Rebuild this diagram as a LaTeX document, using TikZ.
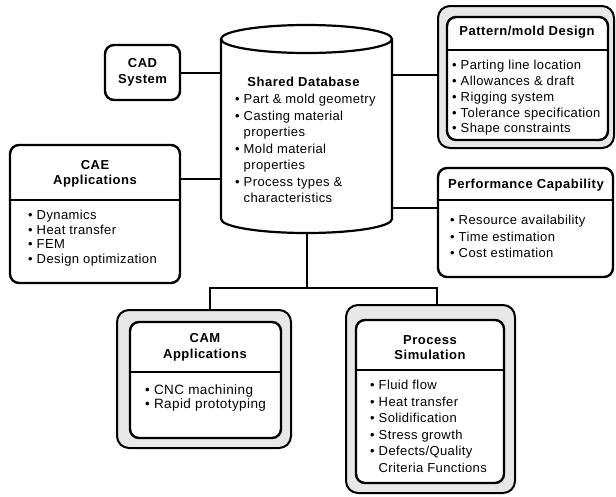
\documentclass[tikz,border=0pt]{standalone}
\usepackage{fontspec}
\setmainfont{Liberation Sans}[LetterSpace=3, BoldFeatures={LetterSpace=4}]
\begin{document}
\begin{tikzpicture}[x=1pt, y=-1pt,
  box/.style={draw, line width=2.4pt, rounded corners=9pt, fill=white},
  frame/.style={draw, line width=2pt, rounded corners=12pt, fill=black!9},
  rule/.style={line width=2pt},
  link/.style={line width=2pt},
  head/.style={font=\fontsize{13}{15.5}\selectfont\bfseries, align=center, inner sep=0pt},
  items/.style={font=\fontsize{13}{16.5}\selectfont, align=left, inner sep=0pt, anchor=north west}]
\useasboundingbox (0,0) rectangle (616,496);

% shared database cylinder
\draw[line width=2.2pt, fill=white] (221,39) -- (221,219)
  arc[start angle=180, end angle=360, x radius=85.5pt, y radius=14pt] -- (392,39);
\draw[line width=2.2pt] (306.5,39) ellipse [x radius=85.5pt, y radius=14pt];
\node[minimum width=171pt, minimum height=208pt, inner sep=0pt] (db) at (306.5,129) {};
\node[head] (dbT) at (303.5,82) {Shared Database};
\node[items] (dbL) at (235,94) {• Part \& mold geometry\\• Casting material\\\hspace*{8.5pt}properties\\• Mold material\\\hspace*{8.5pt}properties\\• Process types \&\\\hspace*{8.5pt}characteristics};

% CAD system
\node[box, head, minimum width=75pt, minimum height=55pt] (cad) at (142.5,72.5) {CAD\\System};

% CAE applications
\node[box, minimum width=170pt, minimum height=138pt] (cae) at (95,214) {};
\draw[rule] (cae.west |- 0,200) -- (cae.east |- 0,200);
\node[head] (caeT) at (95,174) {CAE\\Applications};
\node[items, font=\fontsize{13}{14.5}\selectfont] (caeL) at (28,210) {• Dynamics\\• Heat transfer\\• FEM\\• Design optimization};

% pattern / mold design
\node[frame, minimum width=176pt, minimum height=142pt] (pat) at (526,77) {};
\node[box, minimum width=161pt, minimum height=123pt] (patI) at (527.5,78.5) {};
\draw[rule] (patI.west |- 0,50) -- (patI.east |- 0,50);
\node[head] (patT) at (527,32) {Pattern/mold Design};
\node[items, font=\fontsize{13}{15.8}\selectfont] (patL) at (452,60) {• Parting line location\\• Allowances \& draft\\• Rigging system\\• Tolerance specification\\• Shape constraints};

% performance capability
\node[box, minimum width=175pt, minimum height=109pt] (perf) at (525.5,222.5) {};
\draw[rule] (perf.west |- 0,200) -- (perf.east |- 0,200);
\node[head] (perfT) at (526,185) {Performance Capability};
\node[items] (perfL) at (450,215) {• Resource availability\\• Time estimation\\• Cost estimation};

% CAM applications
\node[frame, minimum width=174pt, minimum height=138pt] (cam) at (204,379) {};
\node[box, minimum width=151pt, minimum height=116pt] (camI) at (205.5,380) {};
\draw[rule] (camI.west |- 0,372) -- (camI.east |- 0,372);
\node[head] (camT) at (205,347.5) {CAM\\Applications};
\node[items, font=\fontsize{13.5}{14}\selectfont] (camL) at (145,385) {• CNC machining\\• Rapid prototyping};

% process simulation
\node[frame, minimum width=169pt, minimum height=188pt] (proc) at (430.5,399) {};
\node[box, minimum width=148pt, minimum height=163pt] (procI) at (430,401.5) {};
\draw[rule] (procI.west |- 0,370) -- (procI.east |- 0,370);
\node[head] (procT) at (430,347.5) {Process\\Simulation};
\node[items] (procL) at (370,380) {• Fluid flow\\• Heat transfer\\• Solidification\\• Stress growth\\• Defects/Quality\\\hspace*{8.5pt}Criteria Functions};

% connectors
\coordinate (caeport) at (180,179);
\coordinate (patport) at (392,75);
\coordinate (perfport) at (392,208);
\coordinate (busL) at (210,288);
\coordinate (busR) at (437,288);
\draw[link] (cad.east) -- (cad.east -| db.west);
\draw[link] (caeport -| cae.east) -- (caeport -| db.west);
\draw[link] (patport -| db.east) -- (patport -| pat.west);
\draw[link] (perfport -| db.east) -- (perfport -| perf.west);
\draw[link] (db.south) -- (db.south |- busL);
\draw[link] (cam.north -| busL) -- (busL) -- (busR) -- (busR |- proc.north);
\end{tikzpicture}
\end{document}
